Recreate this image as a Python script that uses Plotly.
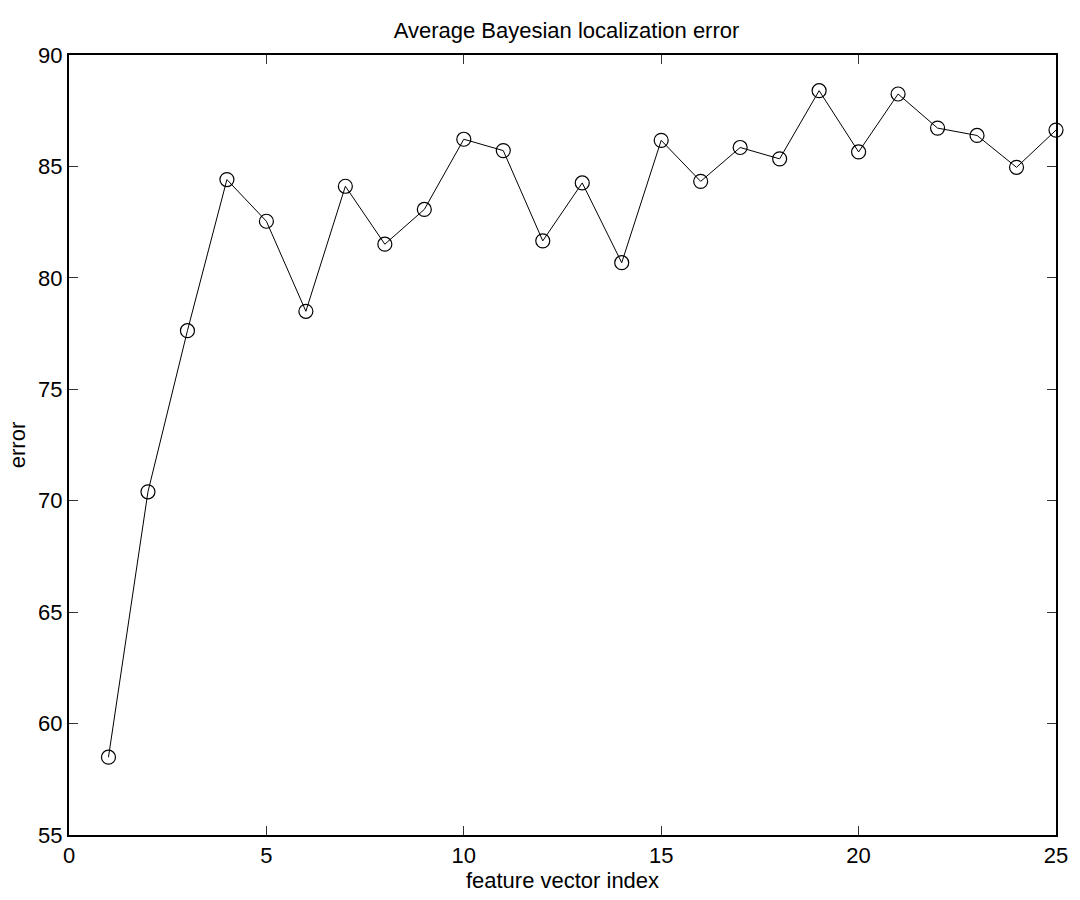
import plotly.graph_objects as go

feature_index = list(range(1, 26))
error_values = [58.49, 70.40, 77.63, 84.41, 82.54, 78.50, 84.11, 81.51, 83.07, 86.22,
                85.71, 81.66, 84.26, 80.68, 86.17, 84.33, 85.85, 85.34, 88.40, 85.65,
                88.25, 86.72, 86.39, 84.96, 86.63]
x_ticks = [0, 5, 10, 15, 20, 25]
y_ticks = [55, 60, 65, 70, 75, 80, 85, 90]

FONT = "Liberation Sans, Arial, Helvetica, sans-serif"

fig = go.Figure()
fig.add_trace(go.Scatter(
    x=feature_index, y=error_values,
    mode="lines+markers",
    line=dict(color="black", width=1),
    marker=dict(symbol="circle-open", size=14, color="black", line=dict(width=1.2)),
    cliponaxis=False,
    showlegend=False,
))

axis_common = dict(
    showgrid=False, zeroline=False,
    showline=True, linecolor="black", linewidth=2, mirror="ticks",
    ticks="inside", ticklen=9, tickwidth=1, tickcolor="#333",
    tickfont=dict(family=FONT, size=22, color="black"),
)

fig.update_layout(
    width=1080, height=900,
    paper_bgcolor="white", plot_bgcolor="white",
    margin=dict(l=69, r=16, t=55, b=59),
    font=dict(family=FONT, size=22, color="black"),
    title=dict(text="Average Bayesian localization error", x=(69 + 1064) / 2 / 1080,
               xanchor="center", xref="container", yref="container",
               y=1 - 30 / 900, yanchor="middle",
               font=dict(family=FONT, size=22, color="black")),
    xaxis=dict(range=[0, 25], tickvals=x_ticks,
               title=dict(text="feature vector index", standoff=4,
                          font=dict(family=FONT, size=22, color="black")),
               **axis_common),
    yaxis=dict(range=[55, 90], tickvals=y_ticks,
               title=dict(text="error", standoff=6,
                          font=dict(family=FONT, size=22, color="black")),
               **axis_common),
)

fig.write_html("out.html")
